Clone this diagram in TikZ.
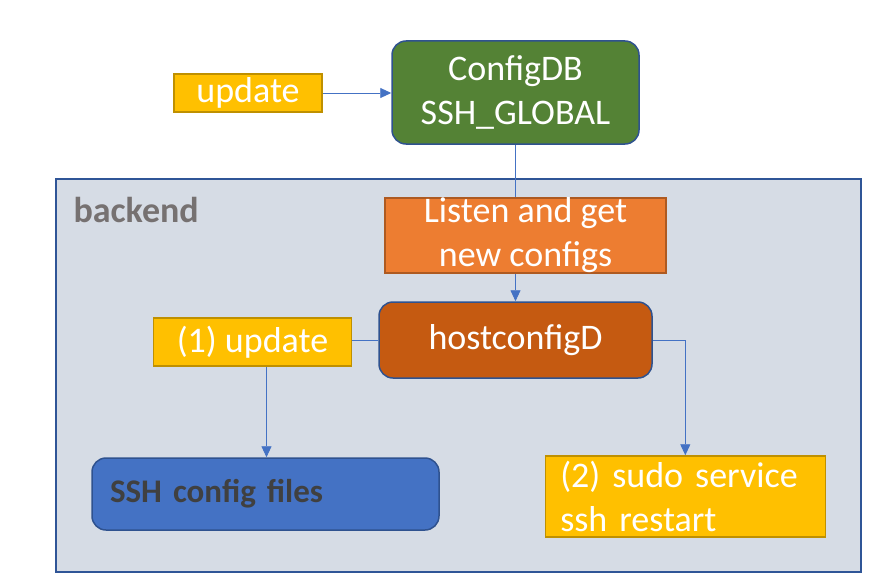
\documentclass[tikz,border=0pt]{standalone}
\usepackage{fontspec}
\setmainfont{Carlito}
\usetikzlibrary{arrows.meta}
\definecolor{gold}{HTML}{FFC000}
\definecolor{goldline}{HTML}{BF9000}
\definecolor{dbgreen}{HTML}{548235}
\definecolor{navy}{HTML}{2F528F}
\definecolor{lorange}{HTML}{ED7D31}
\definecolor{lorangeline}{HTML}{AE5A21}
\definecolor{dorange}{HTML}{C55A11}
\definecolor{sshblue}{HTML}{4472C4}
\definecolor{backfill}{HTML}{D6DCE5}
\definecolor{backline}{HTML}{2F5597}
\definecolor{labelgray}{HTML}{767171}
\definecolor{darktext}{HTML}{404040}
\begin{document}
\begin{tikzpicture}[x=1pt,y=-1pt,
	bigtext/.style={font=\fontsize{36}{44}\selectfont},
	yellowbox/.style={draw=goldline,line width=1.5pt,fill=gold,text=white,bigtext,inner sep=0pt},
	roundbox/.style={draw=navy,line width=1.5pt,rounded corners=14pt,text=white,bigtext,inner sep=0pt},
	link/.style={draw=sshblue,line width=0.9pt},
	arr/.style={link,-{Triangle[length=11pt,width=10pt]}}]
	\useasboundingbox (0,0) rectangle (882,586);

	% backend area
	\draw[fill=backfill,draw=backline,line width=1.5pt] (56,179) rectangle (861,572);
	\node[anchor=west,text=labelgray,font=\fontsize{36}{44}\selectfont\bfseries] (back) at (70,210) {backend};

	\node[yellowbox,minimum width=148,minimum height=38] (upd) at (248,93) {update};
	\node[roundbox,fill=dbgreen,minimum width=247,minimum height=103,align=center] (cdb) at (515.5,92.5) {ConfigDB\\SSH\_GLOBAL};
	\node[draw=lorangeline,line width=1.5pt,fill=lorange,text=white,bigtext,inner sep=0pt,
		minimum width=281,minimum height=75,align=center] (listen) at (525.5,235.5) {Listen and get\\new configs};
	\node[roundbox,fill=dorange,minimum width=273,minimum height=76] (hc) at (515.5,340) {hostconfigD};
	\node[yellowbox,minimum width=198,minimum height=48] (u1) at (252.5,342) {(1) update};
	\node[roundbox,fill=sshblue,minimum width=347,minimum height=72,text width=311,align=left,
		text=darktext,font=\fontsize{33}{40}\selectfont\bfseries] (ssh) at (265.5,494) {SSH config files};
	\node[yellowbox,minimum width=280,minimum height=81,text width=250,align=left] (r2) at (685.3,496.5)
		{(2) sudo service\\ssh restart};

	% connectors
	\draw[arr] (upd.east) -- (upd.east -| cdb.west);
	\draw[link] (cdb.south) -- (cdb.south |- listen.north);
	\draw[arr] (hc.north |- listen.south) -- (hc.north);
	\draw[link] (hc.west) -- (hc.west -| u1.east);
	\draw[arr] ([xshift=14pt]u1.south) -- ([xshift=14pt]u1.south |- ssh.north);
	\draw[arr] (hc.east) -| (r2.north);
\end{tikzpicture}
\end{document}
